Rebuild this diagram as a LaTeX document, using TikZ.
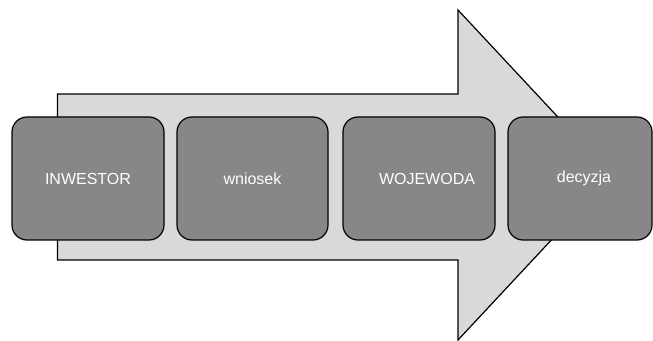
\documentclass[tikz,border=0pt]{standalone}
\usepackage{fontspec}
\setmainfont{Liberation Sans}
\definecolor{strzalka}{HTML}{D9D9D9}
\definecolor{etapfill}{HTML}{878787}

\begin{document}
\begin{tikzpicture}[x=1pt, y=1pt,
		etap/.style={draw, rectangle, rounded corners=15pt, fill=etapfill, line width=1.2pt, text=white, font=\fontsize{16}{19}\selectfont, minimum height=123pt, inner sep=0pt}]
				\useasboundingbox (0,0) rectangle (653,340);
				\draw[fill=strzalka, line width=1.2pt] (57.5,246) -- (458,246) -- (458,330) -- (612,165) -- (458,0) -- (458,80) -- (57.5,80) -- cycle;
				\node[etap, minimum width=152pt] (INW)at(88, 161.5) {INWESTOR};
				\node[etap, minimum width=151pt] (WNI)at(252.5, 161.5) {wniosek};
				\node[etap, minimum width=152pt] (WOJ)at(419, 161.5) {\hspace*{16pt}WOJEWODA};
				\node[etap, minimum width=144pt] (DEC)at(580, 161.5) {\hspace*{8pt}decyzja};
			\end{tikzpicture}
\end{document}
